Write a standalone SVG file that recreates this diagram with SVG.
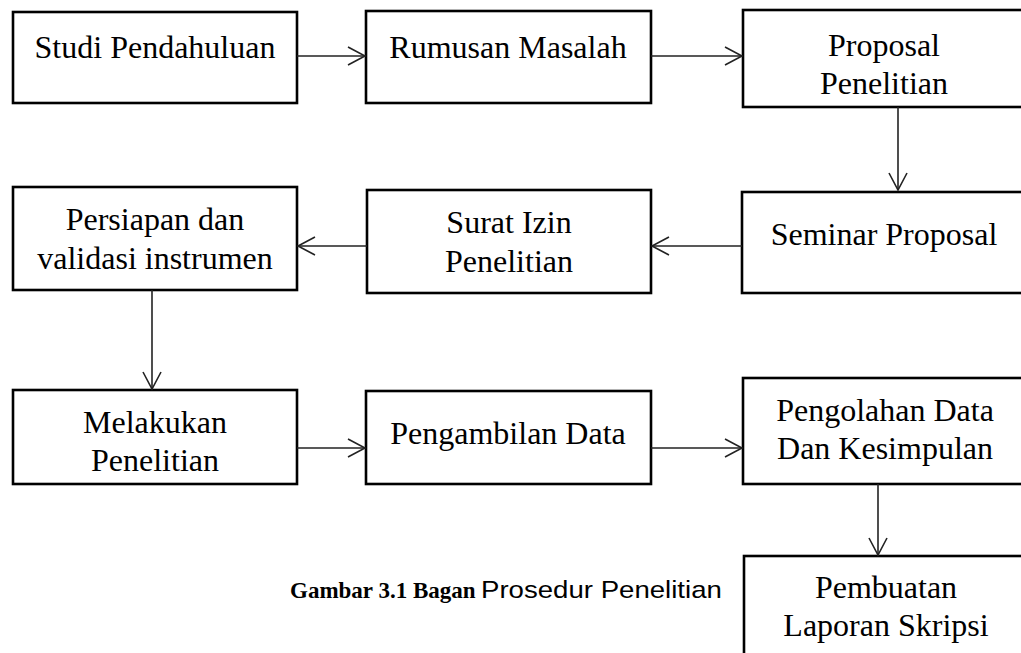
<svg xmlns="http://www.w3.org/2000/svg" width="1021" height="653" viewBox="0 0 1021 653">
<defs>
<style>
.box{fill:#fff;stroke:#000;stroke-width:2.6}
.t{font-family:"Liberation Serif","Times New Roman",serif;font-size:32px;fill:#000;text-anchor:middle}
.c{stroke:#222;stroke-width:1.6;fill:none}
.cap{font-family:"Liberation Serif","Times New Roman",serif;font-size:23px;fill:#000}
.cap2{font-family:"Liberation Sans",Arial,sans-serif;font-size:24px;fill:#000}
</style>
<marker id="ah" markerUnits="userSpaceOnUse" markerWidth="24" markerHeight="24" viewBox="-20 -12 24 24" refX="0" refY="0" orient="auto">
<path d="M-17,-9 L0,0 L-17,9" fill="none" stroke="#222" stroke-width="1.6"/>
</marker>
</defs>
<rect width="1021" height="653" fill="#fff"/>
<g id="n1"><rect class="box" x="13" y="12" width="284" height="91"/><text class="t" x="155" y="58">Studi Pendahuluan</text></g>
<g id="n2"><rect class="box" x="366" y="11" width="285" height="92"/><text class="t" x="508" y="58">Rumusan Masalah</text></g>
<g id="n3"><rect class="box" x="743" y="10" width="284" height="97"/><text class="t" x="884" y="56">Proposal</text><text class="t" x="884" y="94">Penelitian</text></g>
<g id="n4"><rect class="box" x="742" y="192" width="285" height="101"/><text class="t" x="884" y="245">Seminar Proposal</text></g>
<g id="n5"><rect class="box" x="367" y="190" width="284" height="103"/><text class="t" x="509" y="233">Surat Izin</text><text class="t" x="509" y="272">Penelitian</text></g>
<g id="n6"><rect class="box" x="13" y="187" width="284" height="103"/><text class="t" x="155" y="230">Persiapan dan</text><text class="t" x="155" y="269">validasi instrumen</text></g>
<g id="n7"><rect class="box" x="13" y="390" width="284" height="94"/><text class="t" x="155" y="433">Melakukan</text><text class="t" x="155" y="471">Penelitian</text></g>
<g id="n8"><rect class="box" x="366" y="391" width="285" height="93"/><text class="t" x="508" y="444">Pengambilan Data</text></g>
<g id="n9"><rect class="box" x="743" y="378" width="284" height="106"/><text class="t" x="885" y="421">Pengolahan Data</text><text class="t" x="885" y="459">Dan Kesimpulan</text></g>
<g id="n10"><rect class="box" x="744" y="556" width="284" height="110"/><text class="t" x="886" y="598">Pembuatan</text><text class="t" x="886" y="636">Laporan Skripsi</text></g>
<g id="caption"><text class="cap" x="290" y="598" font-weight="bold">Gambar 3.1 Bagan</text><text class="cap2" transform="translate(481,598) scale(1.15,1)" x="0" y="0">Prosedur Penelitian</text></g>
<g id="connectors">
<line class="c" x1="297" y1="56" x2="365" y2="56" marker-end="url(#ah)"/>
<line class="c" x1="651" y1="56" x2="742" y2="56" marker-end="url(#ah)"/>
<line class="c" x1="898" y1="107" x2="898" y2="190" marker-end="url(#ah)"/>
<line class="c" x1="742" y1="246" x2="652" y2="246" marker-end="url(#ah)"/>
<line class="c" x1="367" y1="246" x2="298" y2="246" marker-end="url(#ah)"/>
<line class="c" x1="152" y1="290" x2="152" y2="389" marker-end="url(#ah)"/>
<line class="c" x1="297" y1="448" x2="365" y2="448" marker-end="url(#ah)"/>
<line class="c" x1="651" y1="448" x2="742" y2="448" marker-end="url(#ah)"/>
<line class="c" x1="878" y1="484" x2="878" y2="555" marker-end="url(#ah)"/>
</g>
</svg>
